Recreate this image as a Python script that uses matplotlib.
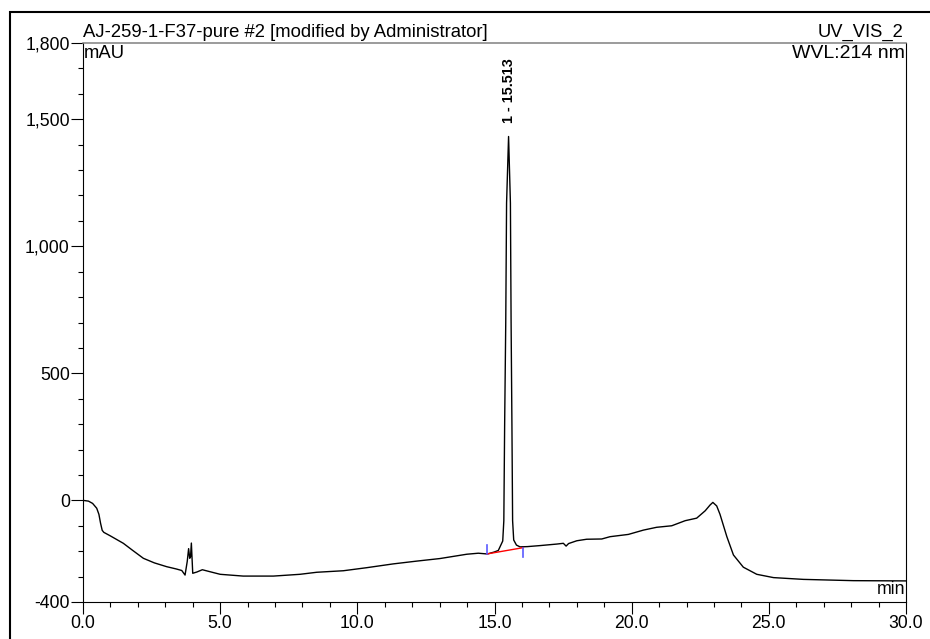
import matplotlib.pyplot as plt
from matplotlib.patches import Rectangle

plt.rcParams['font.family'] = ['Liberation Sans', 'DejaVu Sans']

# chromatogram trace (min, mAU)
time = [0.00, 0.20, 0.35, 0.50, 0.58, 0.64, 0.70, 0.76, 1.00, 1.47, 1.80, 2.20,
        2.60, 3.05, 3.40, 3.60, 3.72, 3.80, 3.85, 3.89, 3.92, 3.95, 4.00, 4.15,
        4.35, 4.60, 5.00, 5.84, 6.94, 7.91, 8.52, 9.49, 10.34, 11.31, 12.17,
        13.01, 13.99, 14.41, 14.74, 15.00, 15.14, 15.30, 15.34, 15.37, 15.41,
        15.44, 15.513, 15.58, 15.605, 15.635, 15.66, 15.70, 15.80, 15.93, 16.20,
        16.66, 17.27, 17.51, 17.61, 17.70, 18.00, 18.36, 18.91, 19.21, 19.88,
        20.43, 20.91, 21.46, 21.95, 22.37, 22.68, 22.86, 22.96, 23.10, 23.22,
        23.47, 23.71, 24.07, 24.56, 25.17, 26.26, 28.08, 30.00]
signal = [0, -3, -12, -31, -55, -90, -118, -126, -140, -169, -196, -228,
          -246, -261, -270, -276, -294, -240, -190, -228, -222, -168, -287, -282,
          -273, -280, -291, -298, -298, -291, -283, -277, -265, -250, -239,
          -229, -212, -208, -211, -203, -197, -160, -80, 300, 700,
          1170, 1432, 1170, 700, 300, -80, -156, -176, -183, -182,
          -178, -172, -169, -180, -170, -159, -153, -152, -143, -134,
          -117, -106, -100, -80, -70, -41, -18, -8, -22, -55,
          -143, -215, -263, -291, -304, -311, -316, -317]

# integrated peak
peak_label = "1 - 15.513"
peak_time = 15.513
peak_height = 1432
base_start = (14.72, -211)
base_end = (16.05, -186)

yticks = [-400, 0, 500, 1000, 1500, 1800]
ytick_labels = ["-400", "0", "500", "1,000", "1,500", "1,800"]
xticks = [0, 5, 10, 15, 20, 25, 30]
xtick_labels = ["0.0", "5.0", "10.0", "15.0", "20.0", "25.0", "30.0"]

fig = plt.figure(figsize=(9.3, 6.39), dpi=100)
ax = fig.add_axes([83/930, 37/639, 823/930, 559/639])

ax.plot(time, signal, color='black', lw=1.0)
ax.plot([base_start[0], base_end[0]], [base_start[1], base_end[1]], color='red', lw=1.0)
ax.plot([base_start[0], base_start[0]], [base_start[1], base_start[1] + 35], color='#5a5aff', lw=1.2)
ax.plot([base_end[0], base_end[0]], [base_end[1], base_end[1] - 35], color='#5a5aff', lw=1.2)

ax.annotate(peak_label, xy=(peak_time, peak_height), xytext=(0, 10), textcoords='offset points',
            rotation=90, ha='center', va='bottom', fontsize=10.4, fontweight='bold')

ax.set_xlim(0, 30)
ax.set_ylim(-400, 1800)
ax.set_xticks(xticks)
ax.set_xticklabels(xtick_labels)
ax.set_xticks(range(0, 31), minor=True)
ax.set_yticks(yticks)
ax.set_yticklabels(ytick_labels)
ax.set_yticks([v for v in range(-400, 1801, 100) if v not in yticks], minor=True)
ax.tick_params(which='major', length=8.5, width=0.8, labelsize=12.7, direction='out', pad=1)
ax.tick_params(which='minor', length=3.8, width=0.8, direction='out')

ax.spines['top'].set_color('#808080')
ax.spines['top'].set_linewidth(1.1)
ax.spines['right'].set_linewidth(0.8)
ax.spines['left'].set_linewidth(0.8)
ax.spines['bottom'].set_linewidth(0.8)

ax.text(0, 1.003, "AJ-259-1-F37-pure #2 [modified by Administrator]", transform=ax.transAxes,
        ha='left', va='bottom', fontsize=13.3)
ax.text(0.997, 1.003, "UV_VIS_2", transform=ax.transAxes, ha='right', va='bottom', fontsize=13.2)
ax.text(0.001, 0.997, "mAU", transform=ax.transAxes, ha='left', va='top', fontsize=13.3)
ax.text(0.999, 0.997, "WVL:214 nm", transform=ax.transAxes, ha='right', va='top', fontsize=14.0)
ax.text(0.999, 0.007, "min", transform=ax.transAxes, ha='right', va='bottom', fontsize=12.8)

fig.patches.append(Rectangle((10/930, -0.05), 1.0, 1 - 12/639 + 0.05, transform=fig.transFigure,
                             fill=False, lw=1.5, edgecolor='black'))

fig.savefig('out.png', dpi=100)
